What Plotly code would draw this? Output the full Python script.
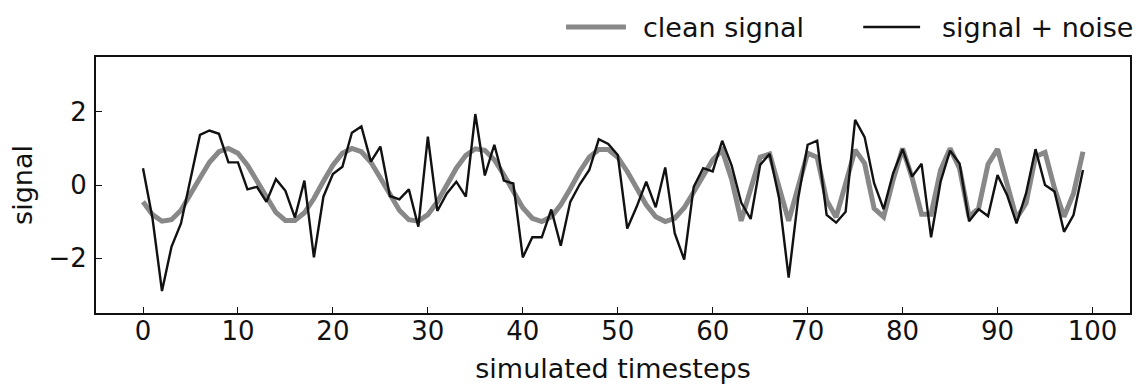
import plotly.graph_objects as go

# simulated timesteps
timesteps = list(range(100))

# clean signal: slow oscillation, then a faster one from step 62 on
clean_signal = [
    -0.46, -0.81, -0.99, -0.95, -0.69, -0.28, 0.19, 0.62, 0.91, 1.00,
    0.87, 0.54, 0.10, -0.37, -0.75, -0.97, -0.97, -0.76, -0.37, 0.10,
    0.54, 0.87, 1.00, 0.91, 0.62, 0.19, -0.28, -0.69, -0.95, -0.99,
    -0.81, -0.46, 0.00, 0.46, 0.81, 0.99, 0.95, 0.69, 0.28, -0.19,
    -0.62, -0.91, -1.00, -0.87, -0.54, -0.10, 0.37, 0.76, 0.97, 0.97,
    0.76, 0.37, -0.10, -0.54, -0.87, -1.00, -0.91, -0.62, -0.19, 0.28,
    0.69, 0.95, 0.15, -0.98, -0.09, 0.76, 0.85, -0.05, -0.98, -0.05,
    0.87, 0.76, -0.42, -0.88, 0.05, 0.96, 0.59, -0.64, -0.87, 0.14,
    1.00, 0.20, -0.80, -0.80, 0.41, 1.00, 0.45, -0.87, -0.64, 0.57,
    0.98, 0.05, -0.91, -0.50, 0.78, 0.89, -0.09, -0.87, -0.23, 0.91,
]

# signal with additive noise
noisy_signal = [
    0.46, -0.91, -2.90, -1.69, -1.05, 0.20, 1.37, 1.49, 1.40, 0.62,
    0.62, -0.12, -0.05, -0.46, 0.16, -0.16, -0.89, 0.12, -1.98, -0.32,
    0.30, 0.50, 1.43, 1.60, 0.64, 1.05, -0.30, -0.39, -0.12, -1.14,
    1.32, -0.71, -0.23, 0.09, -0.32, 1.94, 0.26, 1.10, 0.12, 0.04,
    -1.98, -1.43, -1.43, -0.67, -1.66, -0.46, 0.02, 0.41, 1.25, 1.12,
    0.82, -1.19, -0.59, 0.09, -0.61, 0.48, -1.32, -2.04, -0.05, 0.46,
    0.37, 1.21, 0.53, -0.48, -0.93, 0.55, 0.85, -0.37, -2.53, -0.37,
    1.10, 1.21, -0.82, -1.03, -0.73, 1.78, 1.31, 0.05, -0.66, 0.32,
    0.98, 0.23, 0.58, -1.43, 0.09, 0.94, 0.59, -0.99, -0.66, -0.85,
    0.27, -0.27, -1.05, -0.23, 0.98, 0.00, -0.18, -1.28, -0.82, 0.41,
]

x_ticks = [0, 10, 20, 30, 40, 50, 60, 70, 80, 90, 100]
y_ticks = [-2, 0, 2]
series_names = ["clean signal", "signal + noise"]

GRAY = "#888888"
INK = "#111111"
FONT = "DejaVu Sans"
FS_TICK = 26
FS_TEXT = 27

fig = go.Figure()
fig.add_trace(go.Scatter(
    x=timesteps, y=clean_signal, mode="lines", name=series_names[0],
    line=dict(color=GRAY, width=5), showlegend=False,
))
fig.add_trace(go.Scatter(
    x=timesteps, y=noisy_signal, mode="lines", name=series_names[1],
    line=dict(color=INK, width=2.4), showlegend=False,
))

# legend drawn above the axes, right-aligned
legend_y = 1.117
fig.add_shape(type="line", xref="paper", yref="paper",
              x0=0.4546, x1=0.5125, y0=legend_y, y1=legend_y,
              line=dict(color=GRAY, width=5))
fig.add_annotation(xref="paper", yref="paper", x=0.527, y=legend_y,
                   text=series_names[0], showarrow=False,
                   xanchor="left", yanchor="middle",
                   font=dict(family=FONT, size=FS_TEXT, color=INK))
fig.add_shape(type="line", xref="paper", yref="paper",
              x0=0.742, x1=0.797, y0=legend_y, y1=legend_y,
              line=dict(color=INK, width=2.4))
fig.add_annotation(xref="paper", yref="paper", x=0.8165, y=legend_y,
                   text=series_names[1], showarrow=False,
                   xanchor="left", yanchor="middle",
                   font=dict(family=FONT, size=FS_TEXT, color=INK))

axis_common = dict(
    showgrid=False, zeroline=False,
    showline=True, linecolor=INK, linewidth=1.8, mirror=True,
    ticks="inside", ticklen=6, tickwidth=1.4, tickcolor=INK,
    tickfont=dict(family=FONT, size=FS_TICK, color=INK),
)

fig.update_xaxes(
    range=[-4.95, 103.95], tickvals=x_ticks,
    ticktext=[str(v) for v in x_ticks],
    title=dict(text="simulated timesteps", standoff=14,
               font=dict(family=FONT, size=FS_TEXT, color=INK)),
    ticklabelstandoff=-6,
    **axis_common,
)
fig.update_yaxes(
    range=[-3.5, 3.5], tickvals=y_ticks,
    ticktext=["\u22122", "0", "2"],
    title=dict(text="signal", standoff=8,
               font=dict(family=FONT, size=FS_TEXT, color=INK)),
    ticklabelstandoff=2,
    **axis_common,
)

fig.update_layout(
    width=1137, height=385,
    margin=dict(l=96, r=5, t=57, b=72),
    paper_bgcolor="white", plot_bgcolor="white",
    font=dict(family=FONT, size=FS_TICK, color=INK),
)

fig.write_html("out.html")
